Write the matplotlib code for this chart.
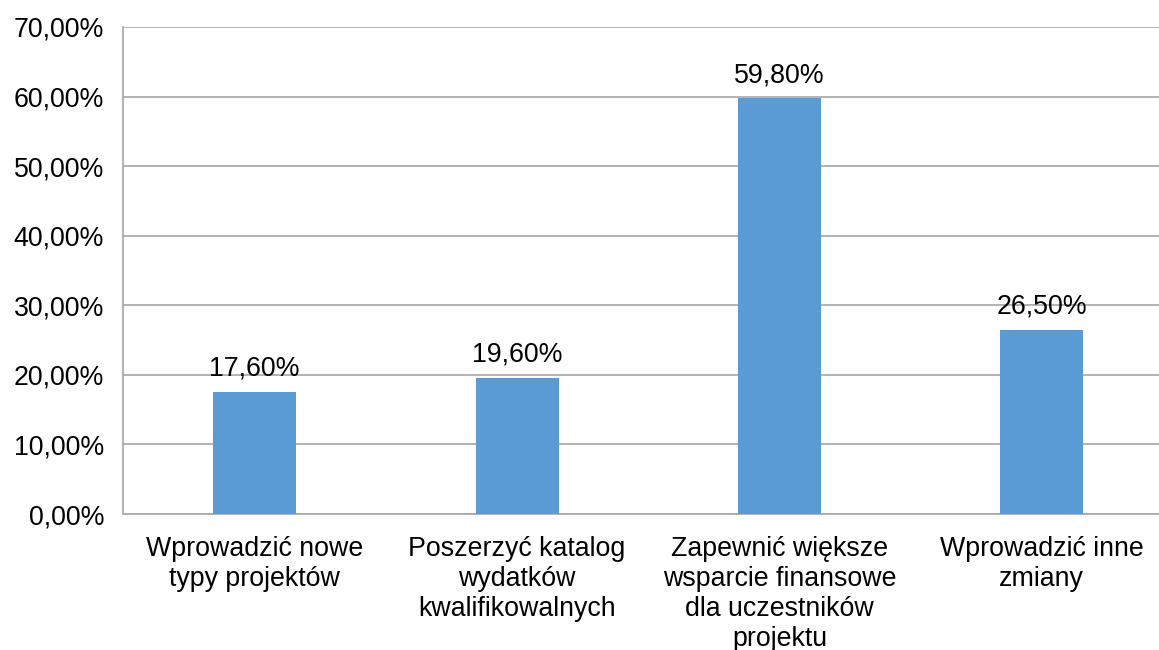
import matplotlib.pyplot as plt
from matplotlib.ticker import FuncFormatter

plt.rcParams['font.family'] = ['Liberation Sans', 'DejaVu Sans']

# Data
categories = ['Wprowadzić nowe\ntypy projektów',
              'Poszerzyć katalog\nwydatków\nkwalifikowalnych',
              'Zapewnić większe\nwsparcie finansowe\ndla uczestników\nprojektu',
              'Wprowadzić inne\nzmiany']
values = [17.6, 19.6, 59.8, 26.5]

bar_color = '#5B9BD5'
grid_color = '#A6A6A6'
fs = 19.3

fig = plt.figure(figsize=(11.59, 6.5), dpi=100)
ax = fig.add_axes([123.5 / 1159, 1 - 514 / 650, (1173 - 123.5) / 1159, (514 - 27) / 650])

x = range(len(categories))
bars = ax.bar(x, values, width=0.316, color=bar_color, zorder=3)

for b, v in zip(bars, values):
    ax.annotate(f'{v:.2f}%'.replace('.', ','), (b.get_x() + b.get_width() / 2, v),
                xytext=(0, 7), textcoords='offset points', ha='center', va='bottom',
                fontsize=fs, color='#000000')

ax.set_xlim(-0.5, 3.5)
ax.set_ylim(0, 70)
ax.set_yticks(range(0, 71, 10))
ax.yaxis.set_major_formatter(FuncFormatter(lambda v, p: f'{v:.2f}%'.replace('.', ',')))
ax.set_xticks(list(x))
ax.set_xticklabels(categories, fontsize=fs, linespacing=1.2)
ax.tick_params(axis='y', labelsize=fs, length=0, pad=14)
ax.tick_params(axis='x', length=0, pad=16)

ax.yaxis.grid(True, color=grid_color, linewidth=1.2, zorder=0)
ax.set_axisbelow(True)
for s in ['top', 'right']:
    ax.spines[s].set_visible(False)
ax.spines['left'].set_color(grid_color)
ax.spines['bottom'].set_color(grid_color)
ax.spines['left'].set_linewidth(1.2)
ax.spines['bottom'].set_linewidth(1.2)

fig.savefig('out.png', dpi=100)
